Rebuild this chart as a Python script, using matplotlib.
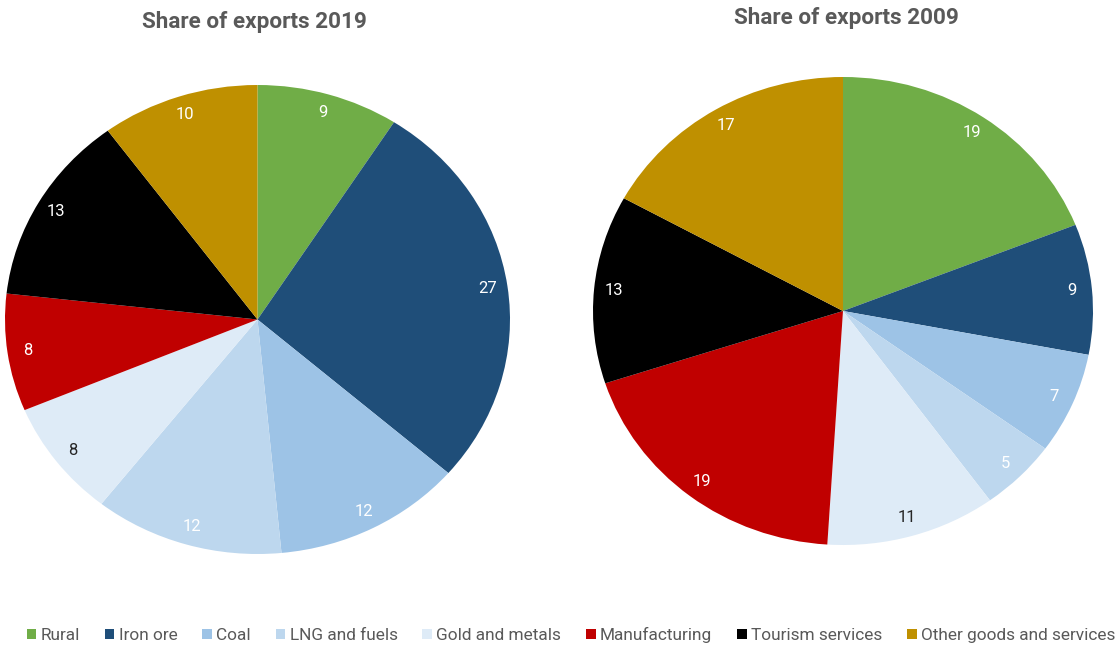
import matplotlib
matplotlib.use("Agg")
import matplotlib.pyplot as plt
from matplotlib.patches import Patch

plt.rcParams["font.family"] = ["Roboto", "DejaVu Sans"]

# data
categories = ["Rural", "Iron ore", "Coal", "LNG and fuels", "Gold and metals",
              "Manufacturing", "Tourism services", "Other goods and services"]
share_2019 = [9, 27, 12, 12, 8, 8, 13, 10]
share_2009 = [19, 9, 7, 5, 11, 19, 13, 17]

colors = ["#70AD47", "#1F4E79", "#9DC3E6", "#BDD7EE", "#DEEBF7",
          "#C00000", "#000000", "#BF9000"]
label_colors = ["white", "white", "white", "white", "#262626",
                "white", "white", "white"]
GREY = "#595959"

fig = plt.figure(figsize=(11.2, 6.46), dpi=100)


def draw_pie(rect, values, title, title_xy):
    ax = fig.add_axes(rect)
    total = sum(values)
    wedges, _, autotexts = ax.pie(
        values, colors=colors, startangle=90, counterclock=False,
        autopct=lambda p: f"{p * total / 100:.0f}", pctdistance=0.92,
        wedgeprops=dict(linewidth=0),
        textprops=dict(fontsize=12))
    for t, c in zip(autotexts, label_colors):
        t.set_color(c)
    # stretched, not circular
    ax.set_aspect("auto")
    ax.set_xlim(-1, 1)
    ax.set_ylim(-1, 1)
    ax.axis("off")
    fig.text(title_xy[0], title_xy[1], title, ha="center", va="center",
             fontsize=16.2, fontweight="bold", color=GREY)
    return wedges


draw_pie([5 / 1120, 92 / 646, 505 / 1120, 469 / 646], share_2019,
         "Share of exports 2019", (254 / 1120, 1 - 22 / 646))
draw_pie([593 / 1120, 101 / 646, 500 / 1120, 468 / 646], share_2009,
         "Share of exports 2009", (846 / 1120, 1 - 18 / 646))

handles = [Patch(facecolor=c, edgecolor="none") for c in colors]
leg = fig.legend(handles, categories, loc="center", ncol=8,
                 bbox_to_anchor=(571 / 1120, 1 - 635 / 646),
                 frameon=False, fontsize=12.4, handlelength=0.55,
                 handleheight=0.55, handletextpad=0.25, columnspacing=1.45,
                 borderpad=0, borderaxespad=0)
for t in leg.get_texts():
    t.set_color(GREY)

fig.savefig("out.png", dpi=100)
